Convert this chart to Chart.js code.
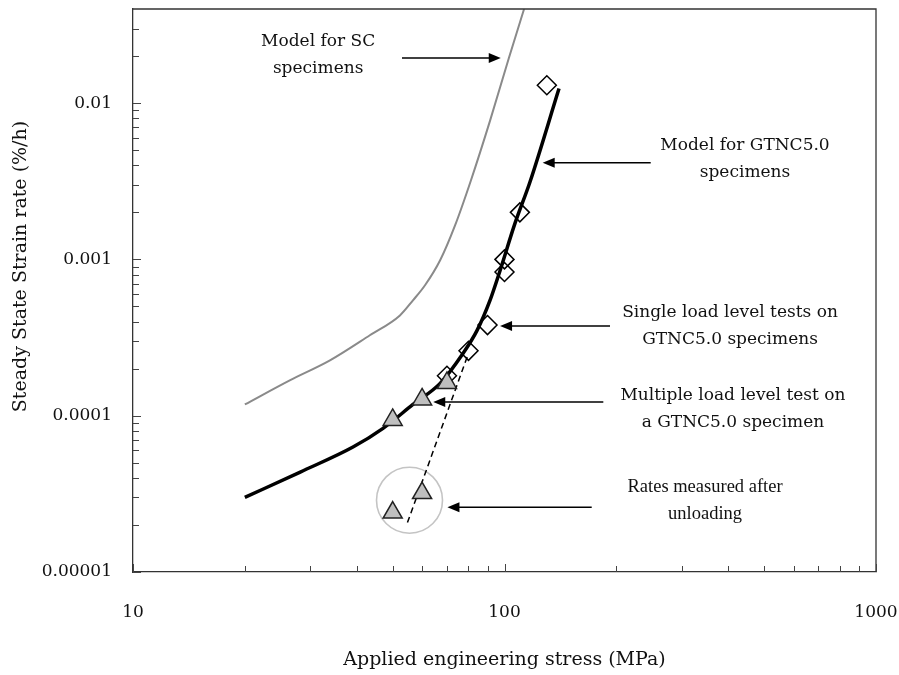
<!DOCTYPE html>
<html><head><meta charset="utf-8">
<script src="https://cdn.jsdelivr.net/npm/chart.js@4.4.0/dist/chart.umd.min.js"></script>
<style>html,body{margin:0;padding:0;background:#fff}#wrap{width:899px;height:675px;position:relative}canvas{display:block}</style>
</head><body><div id="wrap"><canvas id="c" width="899" height="675"></canvas></div>
<script>
// ---------- data ----------
const scModelStress   = [20, 26.5, 33.9, 43.4, 52.3, 56.7, 61.1, 67.1, 73.6, 81.2, 91.4, 102.8, 112.9];
const scModelRate     = [1.18e-4, 1.69e-4, 2.26e-4, 3.27e-4, 4.38e-4, 5.47e-4, 6.83e-4, 9.87e-4, 1.65e-3, 3.2e-3, 7.7e-3, 0.0195, 0.04];
const gtncModelStress = [20, 28.2, 39.1, 47.1, 56.7, 67.1, 77.3, 84.3, 91.4, 97.3, 106.7, 117.1, 140.2];
const gtncModelRate   = [3.0e-5, 4.36e-5, 6.3e-5, 8.3e-5, 1.18e-4, 1.61e-4, 2.5e-4, 3.5e-4, 5.47e-4, 8.5e-4, 1.7e-3, 3.13e-3, 0.0124];
const singleStress    = [70, 80, 90, 100, 100, 110, 130];
const singleRate      = [1.8e-4, 2.6e-4, 3.8e-4, 8.3e-4, 1.0e-3, 2.0e-3, 0.013];
const multiStress     = [50, 60, 70];
const multiRate       = [9.4e-5, 1.27e-4, 1.62e-4];
const unloadStress    = [60, 50];
const unloadRate      = [3.2e-5, 2.4e-5];
const unloadTrendStress = [54.8, 79.9];
const unloadTrendRate   = [2.07e-5, 2.49e-4];
const circleStress    = [55.5];
const circleRate      = [2.88e-5];

// ---------- axes ----------
const xTickValues = [10, 100, 1000];
const xTickLabels = ['10', '100', '1000'];
const yTickValues = [0.00001, 0.0001, 0.001, 0.01];
const yTickLabels = ['0.00001', '0.0001', '0.001', '0.01'];
const minorMultipliers = [2, 3, 4, 5, 6, 7, 8, 9];
const xMin = 10, xMax = 1000, yMin = 0.00001, yMax = 0.04;
const xTitle = 'Applied engineering stress (MPa)';
const yTitle = 'Steady State Strain rate (%/h)';

// ---------- annotations (data coordinates) ----------
const arrowTailX = [52.97, 247.5, 192.3, 184.5, 171.7];
const arrowTipX  = [97.7, 126.7, 97.3, 64.3, 70.2];
const arrowY     = [0.01944, 4.15e-3, 3.75e-4, 1.225e-4, 2.6e-5];
const noteLines  = [
  ['Model for SC', 'specimens'],
  ['Model for GTNC5.0', 'specimens'],
  ['Single load level tests on', 'GTNC5.0 specimens'],
  ['Multiple load level test on', 'a GTNC5.0 specimen'],
  ['Rates measured after', 'unloading']
];
const noteX = [31.5, 444, 404.6, 412, 346.6];
const noteY = [0.0203, 4.38e-3, 3.75e-4, 1.1e-4, 2.86e-5];

function pts(xs, ys) { return xs.map((x, i) => ({x: x, y: ys[i]})); }
function withMinor(majors) {
  const out = [];
  majors.forEach((m, i) => {
    out.push(m);
    if (i < majors.length - 1) minorMultipliers.forEach(k => out.push(m * k));
  });
  return out;
}
const xAllTicks = withMinor(xTickValues);
const yAllTicks = withMinor(yTickValues).concat([0.02, 0.03]);
function labelFor(v, vals, labels) {
  for (let i = 0; i < vals.length; i++) if (Math.abs(v / vals[i] - 1) < 1e-6) return labels[i];
  return '';
}
function zeroPad(s) { s.paddingTop = 0; s.paddingBottom = 0; s.paddingLeft = 0; s.paddingRight = 0; }

const SERIF = '"DejaVu Serif", serif';

const decor = {
  id: 'decor',
  afterDatasetsDraw(chart) {
    const ctx = chart.ctx, a = chart.chartArea;
    const xs = chart.scales.x, ys = chart.scales.y;
    ctx.save();
    ctx.strokeStyle = '#333'; ctx.lineWidth = 1.3;
    ctx.beginPath();
    ctx.moveTo(a.left, a.top); ctx.lineTo(a.right, a.top); ctx.lineTo(a.right, a.bottom);
    ctx.stroke();
    ctx.strokeStyle = '#444'; ctx.lineWidth = 1;
    xAllTicks.forEach(v => {
      const p = Math.round(xs.getPixelForValue(v)) + 0.5;
      const len = labelFor(v, xTickValues, xTickLabels) ? 8 : 6;
      ctx.beginPath(); ctx.moveTo(p, a.bottom); ctx.lineTo(p, a.bottom - len); ctx.stroke();
    });
    yAllTicks.forEach(v => {
      const p = Math.round(ys.getPixelForValue(v)) + 0.5;
      const len = labelFor(v, yTickValues, yTickLabels) ? 8 : 6;
      ctx.beginPath(); ctx.moveTo(a.left, p); ctx.lineTo(a.left + len, p); ctx.stroke();
    });
    ctx.strokeStyle = '#000'; ctx.fillStyle = '#000'; ctx.lineWidth = 1.5;
    arrowY.forEach((yv, i) => {
      const y = ys.getPixelForValue(yv);
      const x0 = xs.getPixelForValue(arrowTailX[i]);
      const x1 = xs.getPixelForValue(arrowTipX[i]);
      const dir = x1 > x0 ? 1 : -1;
      ctx.beginPath(); ctx.moveTo(x0, y); ctx.lineTo(x1 - dir * 10, y); ctx.stroke();
      ctx.beginPath();
      ctx.moveTo(x1, y); ctx.lineTo(x1 - dir * 12, y - 5); ctx.lineTo(x1 - dir * 12, y + 5);
      ctx.closePath(); ctx.fill();
    });
    ctx.textAlign = 'center'; ctx.textBaseline = 'middle'; ctx.fillStyle = '#111';
    noteLines.forEach((lines, i) => {
      const cx = xs.getPixelForValue(noteX[i]);
      const cy = ys.getPixelForValue(noteY[i]);
      ctx.font = i === 4 ? '18.5px "Liberation Serif", serif' : '17px ' + SERIF;
      const lh = 27.5;
      lines.forEach((t, j) => ctx.fillText(t, cx, cy + (j - (lines.length - 1) / 2) * lh));
    });
    ctx.save();
    ctx.font = '19px ' + SERIF;
    ctx.translate(21, (a.top + a.bottom) / 2 - 24);
    ctx.rotate(-Math.PI / 2);
    ctx.fillText(yTitle, 0, 0);
    ctx.restore();
    ctx.restore();
  }
};

new Chart(document.getElementById('c'), {
  type: 'scatter',
  data: {
    datasets: [
      { label: 'Multiple load level', data: pts(multiStress, multiRate), pointStyle: 'triangle',
        pointRadius: 11, backgroundColor: '#bfbfbf', borderColor: '#222', borderWidth: 1.5, showLine: false },
      { label: 'After unloading', data: pts(unloadStress, unloadRate), pointStyle: 'triangle',
        pointRadius: 11, backgroundColor: '#bfbfbf', borderColor: '#222', borderWidth: 1.5, showLine: false },
      { label: 'Unloading trend', data: pts(unloadTrendStress, unloadTrendRate), showLine: true,
        borderColor: '#000', borderWidth: 1.5, borderDash: [6, 4], pointRadius: 0 },
      { label: 'Single load level', data: pts(singleStress, singleRate), pointStyle: 'rectRot',
        pointRadius: 9.5, backgroundColor: 'rgba(0,0,0,0)', borderColor: '#000', borderWidth: 1.5, showLine: false },
      { label: 'Model GTNC5.0', data: pts(gtncModelStress, gtncModelRate), showLine: true,
        borderColor: '#000', borderWidth: 3.5, pointRadius: 0, cubicInterpolationMode: 'monotone' },
      { label: 'Model SC', data: pts(scModelStress, scModelRate), showLine: true,
        borderColor: '#8a8a8a', borderWidth: 2, pointRadius: 0, cubicInterpolationMode: 'monotone' },
      { label: 'Circle', data: pts(circleStress, circleRate), pointStyle: 'circle',
        pointRadius: 33, backgroundColor: 'rgba(0,0,0,0)', borderColor: '#c4c4c4', borderWidth: 1.6, showLine: false }
    ]
  },
  options: {
    responsive: false,
    animation: false,
    devicePixelRatio: 1,
    layout: { autoPadding: false, padding: { left: 0, right: 23, top: 9, bottom: 0 } },
    plugins: { legend: { display: false }, tooltip: { enabled: false } },
    scales: {
      x: {
        type: 'logarithmic', min: xMin, max: xMax, position: 'bottom',
        afterBuildTicks: s => { s.ticks = xAllTicks.map(v => ({value: v})); },
        afterFit: s => { s.height = 103; zeroPad(s); },
        grid: { display: false },
        border: { display: true, color: '#333', width: 1.3 },
        ticks: { autoSkip: false, maxRotation: 0, padding: 22, color: '#111',
          font: { family: SERIF, size: 17 },
          callback: v => labelFor(v, xTickValues, xTickLabels) },
        title: { display: true, text: xTitle, color: '#111', font: { family: SERIF, size: 19 }, padding: { top: 0, bottom: 4 } }
      },
      y: {
        type: 'logarithmic', min: yMin, max: yMax, position: 'left',
        afterBuildTicks: s => { s.ticks = yAllTicks.map(v => ({value: v})); },
        afterFit: s => { s.width = 133; zeroPad(s); },
        grid: { display: false },
        border: { display: true, color: '#333', width: 1.3 },
        ticks: { autoSkip: false, padding: 13, color: '#111',
          font: { family: SERIF, size: 17 },
          callback: v => labelFor(v, yTickValues, yTickLabels) },
        title: { display: false }
      }
    }
  },
  plugins: [decor]
});
</script>
</body></html>
